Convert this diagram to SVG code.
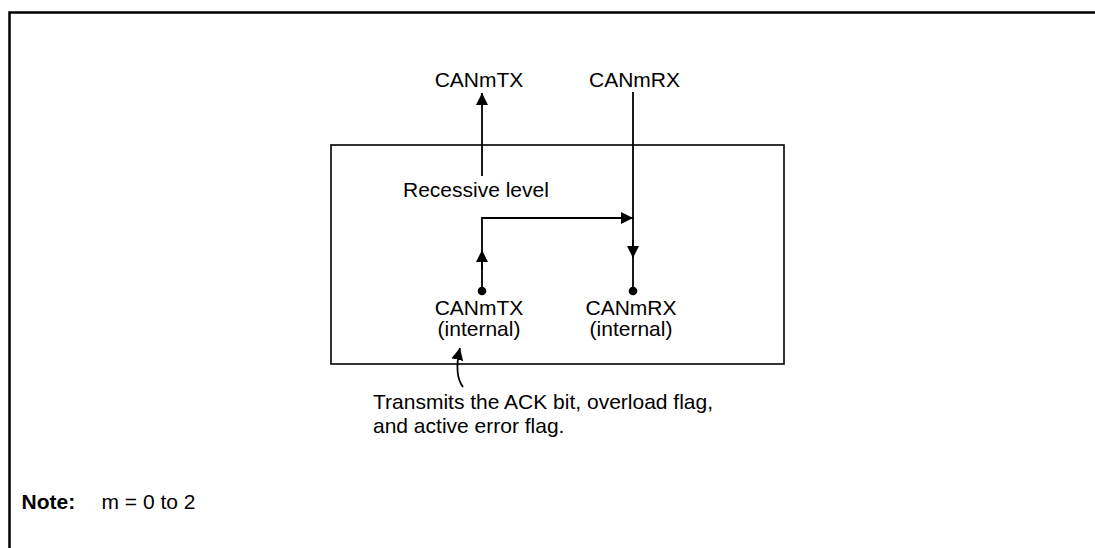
<svg xmlns="http://www.w3.org/2000/svg" width="1095" height="548" viewBox="0 0 1095 548">
<style>
text{font-family:"Liberation Sans",Arial,sans-serif;font-size:21px;fill:#000}
.c{text-anchor:middle}
.ln{stroke:#000;stroke-width:1.8;fill:none}
</style>
<defs>
<marker id="ah" viewBox="0 0 10 10" refX="10" refY="5" markerWidth="12" markerHeight="13" markerUnits="userSpaceOnUse" orient="auto"><path d="M0,0 L10,5 L0,10 Z" fill="#000"/></marker>
</defs>
<rect width="1095" height="548" fill="#fff"/>
<path d="M9.5,548 V12.5 H1095" stroke="#000" stroke-width="2.5" fill="none"/>
<g id="block"><rect x="331" y="145" width="453" height="219" fill="none" stroke="#000" stroke-width="1.6"/></g>
<g id="canmtx-out"><text class="c" x="479" y="87">CANmTX</text></g>
<g id="canmrx-in"><text class="c" x="634.5" y="87">CANmRX</text></g>
<g id="recessive"><text x="403" y="197">Recessive level</text></g>
<g id="canmtx-int"><text class="c" x="479" y="315">CANmTX</text><text class="c" x="479" y="336">(internal)</text><circle cx="482" cy="291" r="4.3"/></g>
<g id="canmrx-int"><text class="c" x="631" y="315">CANmRX</text><text class="c" x="631" y="336">(internal)</text><circle cx="633" cy="291" r="4.3"/></g>
<g id="connectors">
<path class="ln" d="M482,176 V93" marker-end="url(#ah)"/>
<path class="ln" d="M633,92 V291"/>
<path class="ln" d="M633,240 V258" marker-end="url(#ah)"/>
<path class="ln" d="M482,291 V218 H633"/>
<path class="ln" d="M482,270 V250" marker-end="url(#ah)"/>
<path class="ln" d="M620,218 H633" marker-end="url(#ah)"/>
<path class="ln" d="M463,387 C456,378 456,365 460,348" marker-end="url(#ah)"/>
</g>
<g id="note-tx"><text x="373" y="409">Transmits the ACK bit, overload flag,</text><text x="373" y="433">and active error flag.</text></g>
<g id="note"><text x="21.5" y="509" font-weight="bold">Note:</text><text x="101.5" y="509">m = 0 to 2</text></g>
</svg>
